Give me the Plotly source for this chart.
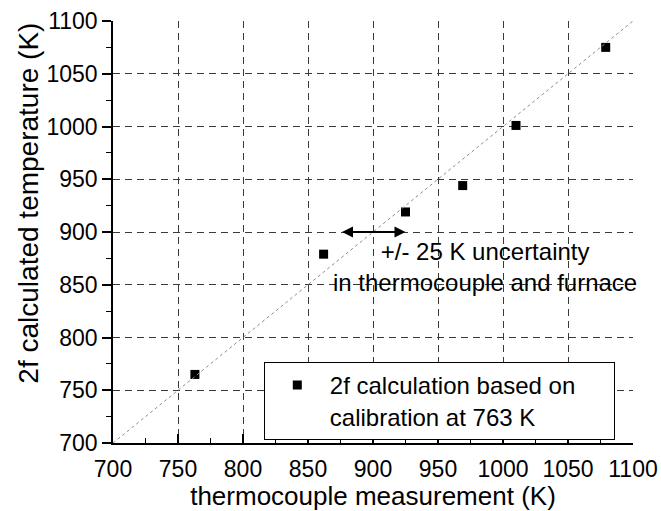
import plotly.graph_objects as go

thermocouple = [763, 862, 925, 969, 1010, 1079]
calc_temp = [765, 879, 919, 944, 1001, 1075]
diag = [700, 1100]
tick_vals = [700, 750, 800, 850, 900, 950, 1000, 1050, 1100]
grid_vals = [750, 800, 850, 900, 950, 1000, 1050]
arrow_span = [875, 925]
arrow_y = 900
note_xy = [986, 867]

FONT = "Liberation Sans, Arial, sans-serif"
TXT = dict(family=FONT, size=24, color="black")

fig = go.Figure()
fig.add_trace(go.Scatter(x=diag, y=diag, mode="lines", xaxis="x2", yaxis="y2",
                         line=dict(color="#8c8c8c", width=1, dash="dot"),
                         showlegend=False, hoverinfo="skip"))
fig.add_trace(go.Scatter(x=thermocouple, y=calc_temp, mode="markers",
                         marker=dict(symbol="square", size=9, color="black"),
                         name="2f calculation based on" + "&nbsp;" * 5 + "<br>calibration at 763 K"))

fig.add_annotation(x=arrow_span[1], y=arrow_y, ax=arrow_span[0], ay=arrow_y,
                   xref="x", yref="y", axref="x", ayref="y", text="",
                   showarrow=True, arrowhead=2, arrowside="end+start",
                   arrowwidth=2.2, arrowsize=1, arrowcolor="black")
fig.add_annotation(x=note_xy[0], y=note_xy[1], xref="x", yref="y",
                   text="+/- 25 K uncertainty<br>in thermocouple and furnace",
                   showarrow=False, align="center", font=TXT)
fig.add_annotation(x=-0.162, y=0.569, xref="paper", yref="paper",
                   text="2f calculated temperature (K)", textangle=-90,
                   showarrow=False, xanchor="center", yanchor="middle",
                   font=dict(family=FONT, size=28, color="black"))

axis_common = dict(range=[700, 1100], tickvals=tick_vals, showgrid=False,
                   showline=True, linecolor="black", linewidth=1.5, automargin=False,
                   zeroline=False, ticklen=9, tickwidth=1.5, tickcolor="black",
                   tickfont=dict(family=FONT, size=23, color="black"))
grid_axis = dict(range=[700, 1100], tickvals=grid_vals, showgrid=True,
                 gridcolor="#3a3a3a", griddash="7px,5px", gridwidth=1, automargin=False,
                 showline=False, zeroline=False, ticks="", showticklabels=False)

fig.update_layout(
    width=661, height=511,
    margin=dict(l=113, r=28, t=21, b=68),
    plot_bgcolor="white", paper_bgcolor="white",
    font=dict(family=FONT, size=23, color="black"),
    xaxis=dict(**axis_common, ticks="inside", ticklabelstandoff=5,
               minor=dict(dtick=25, ticks="inside", ticklen=5, tickwidth=1, tickcolor="black", showgrid=False),
               title=dict(text="thermocouple measurement (K)",
                          font=dict(family=FONT, size=26, color="black"), standoff=0)),
    yaxis=dict(**axis_common, ticks="outside",
               minor=dict(dtick=25, ticks="outside", ticklen=5, tickwidth=1, tickcolor="black", showgrid=False)),
    xaxis2=dict(**grid_axis, overlaying="x", anchor="y"),
    yaxis2=dict(**grid_axis, overlaying="y", anchor="x"),
    legend=dict(x=0.29, y=0.192, xanchor="left", yanchor="top", valign="top",
                bgcolor="white", bordercolor="black", borderwidth=1,
                itemwidth=55, font=TXT),
)

fig.write_html("out.html")
